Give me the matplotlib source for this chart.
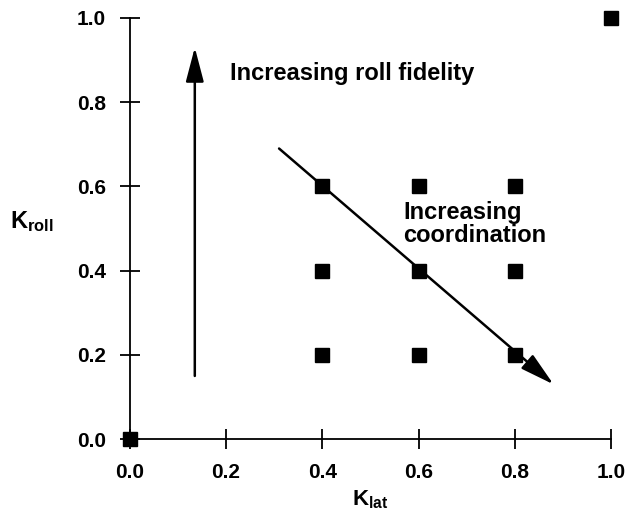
"""
Диаграмма комбинаций коэффициентов K_lat и K_roll.
"""

import matplotlib
matplotlib.use('Agg')
import matplotlib.pyplot as plt

# Данные: точки (K_lat, K_roll)
k_lat = [0.0, 0.4, 0.6, 0.8, 0.4, 0.6, 0.8, 0.4, 0.6, 0.8, 1.0]
k_roll = [0.0, 0.2, 0.2, 0.2, 0.4, 0.4, 0.4, 0.6, 0.6, 0.6, 1.0]
ticks = [0.0, 0.2, 0.4, 0.6, 0.8, 1.0]
tick_labels = ['0.0', '0.2', '0.4', '0.6', '0.8', '1.0']

# Стрелки: (начало), (конец)
roll_arrow = ((0.135, 0.15), (0.135, 0.93))
coord_arrow = ((0.31, 0.69), (0.88, 0.13))

plt.rcParams['font.family'] = ['Liberation Sans', 'DejaVu Sans']
plt.rcParams['font.weight'] = 'bold'
plt.rcParams['mathtext.fontset'] = 'custom'
plt.rcParams['mathtext.rm'] = 'Liberation Sans:bold'
plt.rcParams['mathtext.bf'] = 'Liberation Sans:bold'
plt.rcParams['mathtext.it'] = 'Liberation Sans:bold'

fig = plt.figure(figsize=(6.27, 5.13), dpi=100)
ax = fig.add_axes([0.207, 0.144, 0.768, 0.821])

ax.plot(k_lat, k_roll, 's', color='black', markersize=10, clip_on=False, zorder=5)

ax.set_xlim(0, 1)
ax.set_ylim(0, 1)
ax.spines['top'].set_visible(False)
ax.spines['right'].set_visible(False)
ax.spines['left'].set_linewidth(1.3)
ax.spines['bottom'].set_linewidth(1.3)
ax.set_xticks(ticks)
ax.set_yticks(ticks)
ax.set_xticklabels(tick_labels)
ax.set_yticklabels(tick_labels)
ax.tick_params(direction='inout', length=14, width=1.3, pad=10, labelsize=15)

arrow_props = dict(arrowstyle='-|>,head_length=21,head_width=5.5', mutation_scale=1,
                   color='black', lw=1.8, shrinkA=0, shrinkB=0)
ax.annotate('', xy=roll_arrow[1], xytext=roll_arrow[0], arrowprops=arrow_props)
ax.annotate('', xy=coord_arrow[1], xytext=coord_arrow[0], arrowprops=arrow_props)

ax.text(0.208, 0.853, 'Increasing roll fidelity', fontsize=17, fontweight='bold',
        va='baseline', ha='left')
ax.text(0.568, 0.51, 'Increasing\ncoordination', fontsize=17, fontweight='bold',
        va='center', ha='left', linespacing=1.0)

fig.text(10 / 627, 1 - 222 / 513, r'$\mathrm{K_{roll}}$', fontsize=17,
         va='center', ha='left')
fig.text(370 / 627, 1 - 488 / 513, r'$\mathrm{K_{lat}}$', fontsize=16,
         va='top', ha='center')

plt.savefig('out.png', dpi=100)
